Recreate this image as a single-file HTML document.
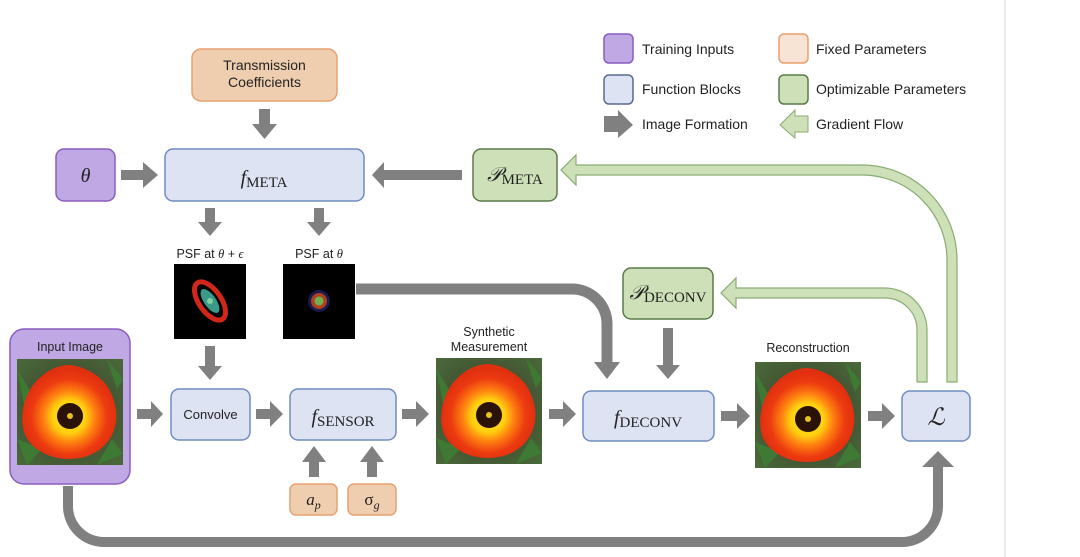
<!DOCTYPE html>
<html><head><meta charset="utf-8"><style>
html,body{margin:0;padding:0;background:#fff;}
svg{display:block;}
text{font-family:"Liberation Sans",sans-serif;fill:#222;}
.m{font-family:"Liberation Serif",serif;font-style:italic;}
.sc{font-family:"Liberation Serif",serif;font-style:normal;}
</style></head><body>
<svg width="1080" height="557" viewBox="0 0 1080 557" xmlns="http://www.w3.org/2000/svg">
<defs>
<radialGradient id="pet" cx="50%" cy="55%" r="50%">
<stop offset="0" stop-color="#ffe020"/><stop offset="0.35" stop-color="#ffd010"/><stop offset="0.55" stop-color="#ff8010"/><stop offset="0.8" stop-color="#ec3a10"/><stop offset="1" stop-color="#e03010"/>
</radialGradient>
<radialGradient id="bg" cx="50%" cy="50%" r="70%">
<stop offset="0" stop-color="#3a3a2a"/><stop offset="1" stop-color="#4a6a3a"/>
</radialGradient>
<g id="flower">
<rect x="0" y="0" width="106" height="106" fill="url(#bg)"/>
<path d="M0 10 L18 40 L8 50 Z M90 0 L100 30 L106 20 Z M0 80 L25 90 L10 106 Z M80 106 L95 80 L106 95 Z" fill="#3f7a34"/>
<path d="M53 6 C70 8 85 18 92 30 C100 45 102 60 96 74 C88 92 70 100 52 100 C34 100 16 92 8 76 C2 60 6 40 16 26 C26 14 38 6 53 6 Z" fill="url(#pet)"/>
<circle cx="53" cy="57" r="13" fill="#2a1208"/>
<circle cx="53" cy="57" r="3" fill="#e8c020"/>
</g>
</defs>

<line x1="1005" y1="0" x2="1005" y2="557" stroke="#e6e6e6" stroke-width="1.5"/>

<!-- Legend -->
<rect x="604" y="34" width="29" height="29" rx="5" fill="#c0a8e4" stroke="#8a5cc0" stroke-width="1.5"/>
<text x="642" y="54" font-size="14">Training Inputs</text>
<rect x="779" y="34" width="29" height="29" rx="5" fill="#f7e4d4" stroke="#e8a070" stroke-width="1.5"/>
<text x="816" y="54" font-size="14">Fixed Parameters</text>
<rect x="604" y="75" width="29" height="29" rx="5" fill="#dde3f2" stroke="#5a6a90" stroke-width="1.5"/>
<text x="642" y="94" font-size="14">Function Blocks</text>
<rect x="779" y="75" width="29" height="29" rx="5" fill="#cde0b8" stroke="#5a7a4a" stroke-width="1.5"/>
<text x="816" y="94" font-size="14">Optimizable Parameters</text>
<path d="M604 116 H618 V110 L633 125 L618 138 V132 H604 Z" fill="#808080"/>
<text x="642" y="129" font-size="14">Image Formation</text>
<path d="M808 116 H795 V110 L780 125 L795 138 V132 H808 Z" fill="#cde0b8" stroke="#8aac74" stroke-width="1"/>
<text x="816" y="129" font-size="14">Gradient Flow</text>

<!-- green gradient paths -->
<path d="M947 382 V260 A85 85 0 0 0 862 175 H576 V185 L561 170 L576 155 V165 H862 A95 95 0 0 1 957 260 V382 Z" fill="#cde0b8" stroke="#8aac74" stroke-width="1.2"/>
<path d="M917 382 V330 A32 32 0 0 0 885 298 H736 V308 L721 293 L736 278 V288 H885 A42 42 0 0 1 927 330 V382 Z" fill="#cde0b8" stroke="#8aac74" stroke-width="1.2"/>

<!-- gray PSF to deconv path -->
<path d="M356 289 H572 A35 35 0 0 1 607 324 V362" fill="none" stroke="#808080" stroke-width="11"/>
<path d="M594 362 L620 362 L607 379 Z" fill="#808080"/>

<!-- bottom gray loop -->
<path d="M68 486 V506 A36 36 0 0 0 104 542 H902 A36 36 0 0 0 938 506 V466" fill="none" stroke="#808080" stroke-width="10"/>
<path d="M922 467 L954 467 L938 451 Z" fill="#808080"/>

<!-- Transmission Coefficients -->
<rect x="192" y="49" width="145" height="52" rx="9" fill="#efceb0" stroke="#e8a070" stroke-width="1.5"/>
<text x="264.5" y="70" font-size="14" text-anchor="middle">Transmission</text>
<text x="264.5" y="87" font-size="14" text-anchor="middle">Coefficients</text>
<path d="M259 109 H270 V124 H277 L264.5 139 L252 124 H259 Z" fill="#808080"/>

<!-- theta -->
<rect x="56" y="149" width="59" height="52" rx="8" fill="#c0a8e4" stroke="#8a5cc0" stroke-width="1.5"/>
<text x="85.5" y="182" font-size="20" text-anchor="middle" class="m">θ</text>
<path d="M121 170 H143 V162 L158 175 L143 188 V180 H121 Z" fill="#808080"/>

<!-- fMETA -->
<rect x="165" y="149" width="199" height="52" rx="8" fill="#dde3f2" stroke="#6f8cc0" stroke-width="1.5"/>
<text x="264" y="184" font-size="20" text-anchor="middle"><tspan class="m">f</tspan><tspan class="sc" font-size="15" dy="3">META</tspan></text>

<path d="M462 170 H384 V162 L372 175 L384 188 V180 H462 Z" fill="#808080"/>

<!-- PMETA -->
<rect x="473" y="149" width="84" height="52" rx="8" fill="#cde0b8" stroke="#5a7a4a" stroke-width="1.5"/>
<text x="515" y="181" font-size="20" text-anchor="middle"><tspan class="m">𝒫</tspan><tspan class="sc" font-size="15" dy="3">META</tspan></text>

<path d="M205 208 H215 V222 H222 L210 236 L198 222 H205 Z" fill="#808080"/>
<path d="M314 208 H324 V222 H331 L319 236 L307 222 H314 Z" fill="#808080"/>
<text x="210" y="258" font-size="12.5" text-anchor="middle">PSF at <tspan class="m">θ</tspan> + <tspan class="m">ϵ</tspan></text>
<text x="319" y="258" font-size="12.5" text-anchor="middle">PSF at <tspan class="m">θ</tspan></text>

<!-- PSF images -->
<rect x="174" y="264" width="72" height="75" fill="#000"/>
<ellipse cx="210" cy="301" rx="11" ry="22" transform="rotate(-35 210 301)" fill="none" stroke="#d02818" stroke-width="5"/>
<ellipse cx="210" cy="301" rx="6" ry="14" transform="rotate(-35 210 301)" fill="#3a9a8a"/>
<circle cx="210" cy="301" r="3" fill="#80d0a0"/>
<rect x="283" y="264" width="72" height="75" fill="#000"/>
<circle cx="319" cy="301" r="11" fill="#202060" opacity="0.8"/>
<circle cx="319" cy="301" r="8" fill="#b04020"/>
<circle cx="319" cy="301" r="4.5" fill="#70b050"/>

<path d="M205 346 H215 V366 H222 L210 380 L198 366 H205 Z" fill="#808080"/>

<!-- Input image -->
<rect x="10" y="329" width="120" height="155" rx="14" fill="#c0a8e4" stroke="#8a5cc0" stroke-width="1.5"/>
<text x="70" y="351" font-size="12.5" text-anchor="middle">Input Image</text>
<use href="#flower" x="17" y="359"/>

<path d="M137 409 H151 V401 L163 414 L151 427 V419 H137 Z" fill="#808080"/>

<rect x="171" y="389" width="79" height="51" rx="8" fill="#dde3f2" stroke="#6f8cc0" stroke-width="1.5"/>
<text x="210.5" y="419" font-size="13" text-anchor="middle">Convolve</text>
<path d="M256 409 H270 V401 L283 414 L270 427 V419 H256 Z" fill="#808080"/>

<rect x="290" y="389" width="106" height="51" rx="8" fill="#dde3f2" stroke="#6f8cc0" stroke-width="1.5"/>
<text x="343" y="423" font-size="20" text-anchor="middle"><tspan class="m">f</tspan><tspan class="sc" font-size="15" dy="3">SENSOR</tspan></text>
<path d="M402 409 H416 V401 L429 414 L416 427 V419 H402 Z" fill="#808080"/>

<path d="M309 477 H319 V462 H326 L314 446 L302 462 H309 Z" fill="#808080"/>
<path d="M367 477 H377 V462 H384 L372 446 L360 462 H367 Z" fill="#808080"/>
<rect x="290" y="484" width="47" height="31" rx="6" fill="#efceb0" stroke="#e8a070" stroke-width="1.5"/>
<text x="313.5" y="505" font-size="17" text-anchor="middle"><tspan class="m">a</tspan><tspan class="m" font-size="12" dy="4">p</tspan></text>
<rect x="348" y="484" width="48" height="31" rx="6" fill="#efceb0" stroke="#e8a070" stroke-width="1.5"/>
<text x="372" y="505" font-size="17" text-anchor="middle" class="sc">σ<tspan class="m" font-size="12" dy="4">g</tspan></text>

<text x="489" y="336" font-size="12.5" text-anchor="middle">Synthetic</text>
<text x="489" y="351" font-size="12.5" text-anchor="middle">Measurement</text>
<use href="#flower" x="436" y="358"/>
<path d="M549 409 H563 V401 L576 414 L563 427 V419 H549 Z" fill="#808080"/>

<rect x="583" y="391" width="131" height="50" rx="8" fill="#dde3f2" stroke="#6f8cc0" stroke-width="1.5"/>
<text x="648" y="424" font-size="20" text-anchor="middle"><tspan class="m">f</tspan><tspan class="sc" font-size="15" dy="3">DECONV</tspan></text>

<rect x="623" y="268" width="90" height="51" rx="8" fill="#cde0b8" stroke="#5a7a4a" stroke-width="1.5"/>
<text x="668" y="299" font-size="20" text-anchor="middle"><tspan class="m">𝒫</tspan><tspan class="sc" font-size="15" dy="3">DECONV</tspan></text>
<path d="M663 328 H673 V365 H680 L668 379 L656 365 H663 Z" fill="#808080"/>

<path d="M721 411 H737 V403 L750 416 L737 429 V421 H721 Z" fill="#808080"/>

<text x="808" y="352" font-size="12.5" text-anchor="middle">Reconstruction</text>
<use href="#flower" x="755" y="362"/>
<path d="M868 411 H882 V403 L895 416 L882 429 V421 H868 Z" fill="#808080"/>

<rect x="902" y="391" width="68" height="50" rx="8" fill="#dde3f2" stroke="#6f8cc0" stroke-width="1.5"/>
<text x="936" y="425" font-size="24" text-anchor="middle" class="m">ℒ</text>
</svg>
</body></html>
